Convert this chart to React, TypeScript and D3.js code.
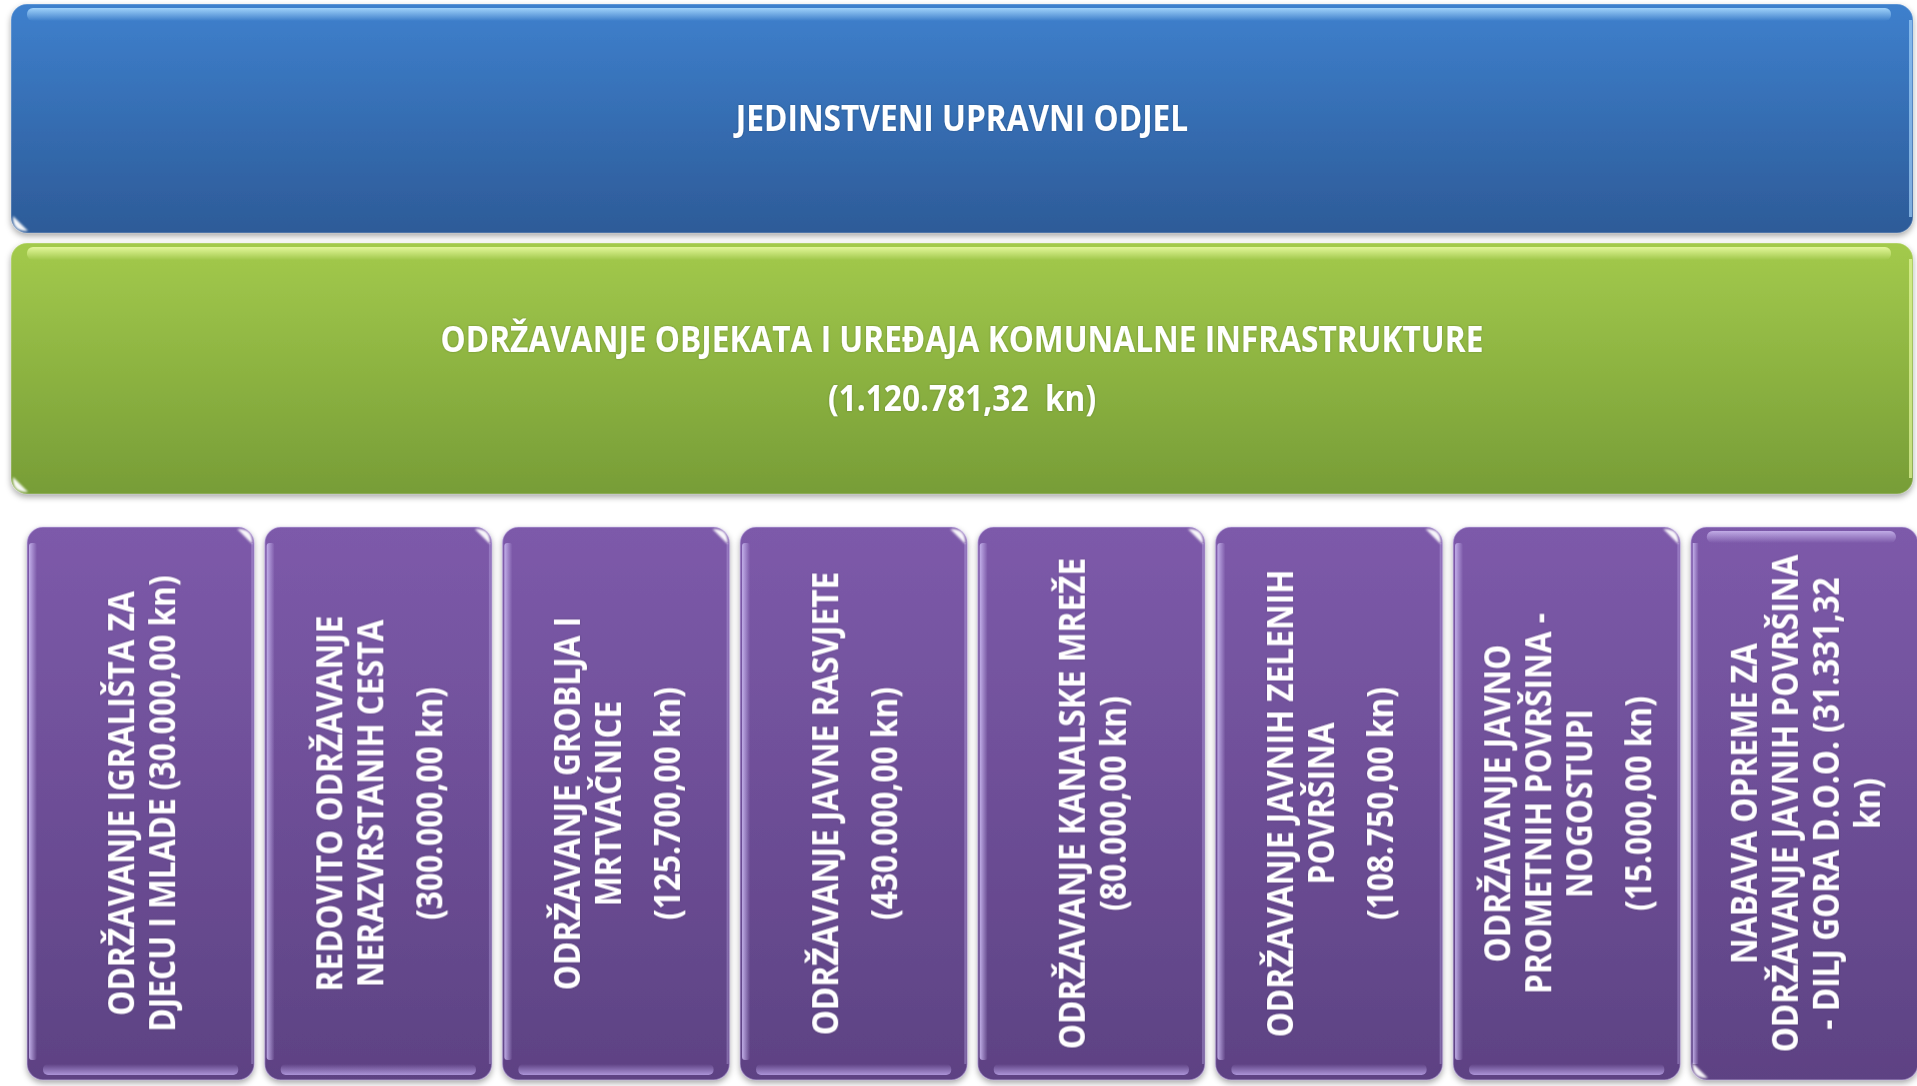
import * as d3 from "d3";
import { useLayoutEffect, useState } from "react";

const W = 1917;
const H = 1086;

const HEADER = ["JEDINSTVENI UPRAVNI ODJEL"];
// paragraphs, each with its wrapped lines
const PROGRAM = [["ODRŽAVANJE OBJEKATA I UREĐAJA KOMUNALNE INFRASTRUKTURE"], ["(1.120.781,32  kn)"]];

const ACTIVITIES: string[][][] = [
  [["ODRŽAVANJE IGRALIŠTA ZA", "DJECU I MLADE (30.000,00 kn)"]],
  [["REDOVITO ODRŽAVANJE", "NERAZVRSTANIH CESTA"], ["(300.000,00 kn)"]],
  [["ODRŽAVANJE GROBLJA I", "MRTVAČNICE"], ["(125.700,00 kn)"]],
  [["ODRŽAVANJE JAVNE RASVJETE"], ["(430.000,00 kn)"]],
  [["ODRŽAVANJE KANALSKE MREŽE", "(80.000,00 kn)"]],
  [["ODRŽAVANJE JAVNIH ZELENIH", "POVRŠINA"], ["(108.750,00 kn)"]],
  [["ODRŽAVANJE JAVNO", "PROMETNIH POVRŠINA -", "NOGOSTUPI"], ["(15.000,00 kn)"]],
  [["NABAVA OPREME ZA", "ODRŽAVANJE JAVNIH POVRŠINA", "- DILJ GORA D.O.O. (31.331,32", "kn)"]],
];
// the last box is drawn in the horizontal style (gloss on top)
const STYLE = ["v", "v", "v", "v", "v", "v", "v", "h"];

const FONT = "'Open Sans', 'Noto Sans', sans-serif";
const FS = 35;
const LINE = 41;
const PARA = 18;
const R = 16;

// offsets of each line centre from the block centre
function lineOffsets(paras: string[][]) {
  const out: { text: string; off: number }[] = [];
  let pos = 0;
  paras.forEach((p, pi) => {
    if (pi > 0) pos += PARA;
    p.forEach((t, li) => {
      if (pi > 0 || li > 0) pos += LINE;
      out.push({ text: t, off: pos });
    });
  });
  return out.map((d) => ({ ...d, off: d.off - pos / 2 }));
}

// glossy crescent hugging a corner
function bottomLeftSpot(x: number, y: number) {
  const p = d3.path();
  p.moveTo(x + 2, y - 17);
  p.quadraticCurveTo(x + 1, y - 1, x + 17, y - 2);
  p.quadraticCurveTo(x + 11, y - 8, x + 2, y - 17);
  return p.toString();
}
function topRightSpot(x: number, y: number) {
  const p = d3.path();
  p.moveTo(x - 17, y + 2);
  p.quadraticCurveTo(x - 1, y + 1, x - 2, y + 17);
  p.quadraticCurveTo(x - 8, y + 11, x - 17, y + 2);
  return p.toString();
}

export default function App() {
  // squeeze the substitute font to Calibri-like widths
  const [k, setK] = useState(0.82);
  useLayoutEffect(() => {
    document.body.style.margin = "0";
    const ctx = document.createElement("canvas").getContext("2d");
    if (!ctx) return;
    ctx.font = `700 ${FS}px ${FONT}`;
    const w = ctx.measureText("REDOVITO ODRŽAVANJE").width;
    if (w > 0) setK(376 / w);
  }, []);

  const x = d3
    .scaleBand<number>()
    .domain(d3.range(ACTIVITIES.length))
    .range([27, 1918])
    .paddingInner(0.044)
    .paddingOuter(0);
  const bw = x.bandwidth();
  const top = 527;
  const bh = 1080 - top;

  const blue = { x: 11, y: 4, w: 1902, h: 229 };
  const green = { x: 11, y: 243, w: 1902, h: 251 };

  const label = (l: { text: string; off: number }, key: number) => (
    <text key={key} transform={`translate(0,${l.off}) scale(${k},1)`} textAnchor="middle" dominantBaseline="central"
      fontFamily={FONT} fontWeight={700} fontSize={FS} fill="#fff" filter="url(#tsh)" style={{ whiteSpace: "pre" }}>
      {l.text}
    </text>
  );

  const hBox = (b: { x: number; y: number; w: number; h: number }, fill: string, band: string, edge: string) => (
    <g>
      <rect x={b.x} y={b.y} width={b.w} height={b.h} rx={R} fill={fill} filter="url(#shadow)" />
      <rect x={b.x} y={b.y} width={b.w} height={b.h} rx={R} fill="none" stroke="#fff" strokeOpacity={0.22} strokeWidth={1.5} />
      <rect x={b.x + R} y={b.y + 4} width={b.w - 2 * R - 6} height={13} rx={6} fill={band} />
      <line x1={b.x + b.w - 2.5} x2={b.x + b.w - 2.5} y1={b.y + R} y2={b.y + b.h - R} stroke={edge} strokeOpacity={0.7} strokeWidth={3} />
      <path d={bottomLeftSpot(b.x, b.y + b.h)} fill="#fff" opacity={0.95} filter="url(#soft)" />
    </g>
  );

  return (
    <svg width={W} height={H} style={{ display: "block", position: "absolute", left: 0, top: 0 }}>
      <defs>
        <linearGradient id="gBlue" x1="0" x2="0" y1="0" y2="1">
          <stop offset="0%" stopColor="#3e80cd" />
          <stop offset="100%" stopColor="#2d5b98" />
        </linearGradient>
        <linearGradient id="gGreen" x1="0" x2="0" y1="0" y2="1">
          <stop offset="0%" stopColor="#a3ca4c" />
          <stop offset="100%" stopColor="#779d37" />
        </linearGradient>
        <linearGradient id="gPurple" x1="0" x2="0" y1="0" y2="1">
          <stop offset="0%" stopColor="#7d5aaa" />
          <stop offset="100%" stopColor="#5d4283" />
        </linearGradient>
        <linearGradient id="bandBlue" x1="0" x2="0" y1="0" y2="1">
          <stop offset="0%" stopColor="#a5d6fc" stopOpacity={0.95} />
          <stop offset="100%" stopColor="#a5d6fc" stopOpacity={0} />
        </linearGradient>
        <linearGradient id="bandGreen" x1="0" x2="0" y1="0" y2="1">
          <stop offset="0%" stopColor="#e6f99e" stopOpacity={0.95} />
          <stop offset="100%" stopColor="#e6f99e" stopOpacity={0} />
        </linearGradient>
        <linearGradient id="bandPurpleTop" x1="0" x2="0" y1="0" y2="1">
          <stop offset="0%" stopColor="#c7b4ec" stopOpacity={0.9} />
          <stop offset="100%" stopColor="#c7b4ec" stopOpacity={0} />
        </linearGradient>
        <linearGradient id="bandPurpleBottom" x1="0" x2="0" y1="0" y2="1">
          <stop offset="0%" stopColor="#b9a2e6" stopOpacity={0} />
          <stop offset="100%" stopColor="#b9a2e6" stopOpacity={0.85} />
        </linearGradient>
        <linearGradient id="bandPurpleLeft" x1="0" x2="1" y1="0" y2="0">
          <stop offset="0%" stopColor="#c9b8f0" stopOpacity={0.9} />
          <stop offset="100%" stopColor="#c9b8f0" stopOpacity={0} />
        </linearGradient>
        <filter id="shadow" x="-5%" y="-5%" width="110%" height="115%">
          <feDropShadow dx={0} dy={3} stdDeviation={3} floodColor="#000" floodOpacity={0.35} />
        </filter>
        <filter id="soft">
          <feGaussianBlur stdDeviation={0.8} />
        </filter>
        <filter id="tsh" x="-5%" y="-20%" width="110%" height="140%">
          <feDropShadow dx={0} dy={0} stdDeviation={1} floodColor="#000" floodOpacity={0.25} />
        </filter>
      </defs>

      {/* department */}
      {hBox(blue, "url(#gBlue)", "url(#bandBlue)", "#9fd0fa")}
      <g transform={`translate(${blue.x + blue.w / 2},${blue.y + blue.h / 2 - 1})`}>
        {lineOffsets(HEADER.map((t) => [t])).map(label)}
      </g>

      {/* programme */}
      {hBox(green, "url(#gGreen)", "url(#bandGreen)", "#e6f99e")}
      <g transform={`translate(${green.x + green.w / 2},${green.y + green.h / 2 - 1})`}>
        {lineOffsets(PROGRAM).map(label)}
      </g>

      {/* activities */}
      {ACTIVITIES.map((paras, i) => {
        const bx = x(i) ?? 0;
        const cx = bx + bw / 2;
        const cy = top + bh / 2;
        const b = { x: bx, y: top, w: bw, h: bh };
        return (
          <g key={i}>
            {STYLE[i] === "h" ? (
              <g>
                <rect x={b.x} y={b.y} width={b.w} height={b.h} rx={R} fill="url(#gPurple)" filter="url(#shadow)" />
                <rect x={b.x} y={b.y} width={b.w} height={b.h} rx={R} fill="none" stroke="#d6c8f5" strokeOpacity={0.4} strokeWidth={1.5} />
                <rect x={b.x + R} y={b.y + 4} width={b.w - 2 * R - 6} height={12} rx={6} fill="url(#bandPurpleTop)" />
                <rect x={b.x + 2} y={b.y + R} width={6} height={b.h - 2 * R} fill="url(#bandPurpleLeft)" />
                <path d={bottomLeftSpot(b.x, b.y + b.h)} fill="#fff" opacity={0.95} filter="url(#soft)" />
              </g>
            ) : (
              <g>
                <rect x={b.x} y={b.y} width={b.w} height={b.h} rx={R} fill="url(#gPurple)" filter="url(#shadow)" />
                <rect x={b.x} y={b.y} width={b.w} height={b.h} rx={R} fill="none" stroke="#d6c8f5" strokeOpacity={0.4} strokeWidth={1.5} />
                <rect x={b.x + 2} y={b.y + R} width={8} height={b.h - 2 * R - 4} rx={3} fill="url(#bandPurpleLeft)" />
                <rect x={b.x + R} y={b.y + b.h - 16} width={b.w - 2 * R} height={11} rx={5} fill="url(#bandPurpleBottom)" />
                <line x1={b.x + b.w - 2} x2={b.x + b.w - 2} y1={b.y + R} y2={b.y + b.h - R} stroke="#c9b8f0" strokeOpacity={0.35} strokeWidth={2} />
                <path d={topRightSpot(b.x + b.w, b.y)} fill="#fff" opacity={0.95} filter="url(#soft)" />
              </g>
            )}
            <g transform={`translate(${cx},${cy}) rotate(-90)`}>
              {lineOffsets(paras).map(label)}
            </g>
          </g>
        );
      })}
    </svg>
  );
}
